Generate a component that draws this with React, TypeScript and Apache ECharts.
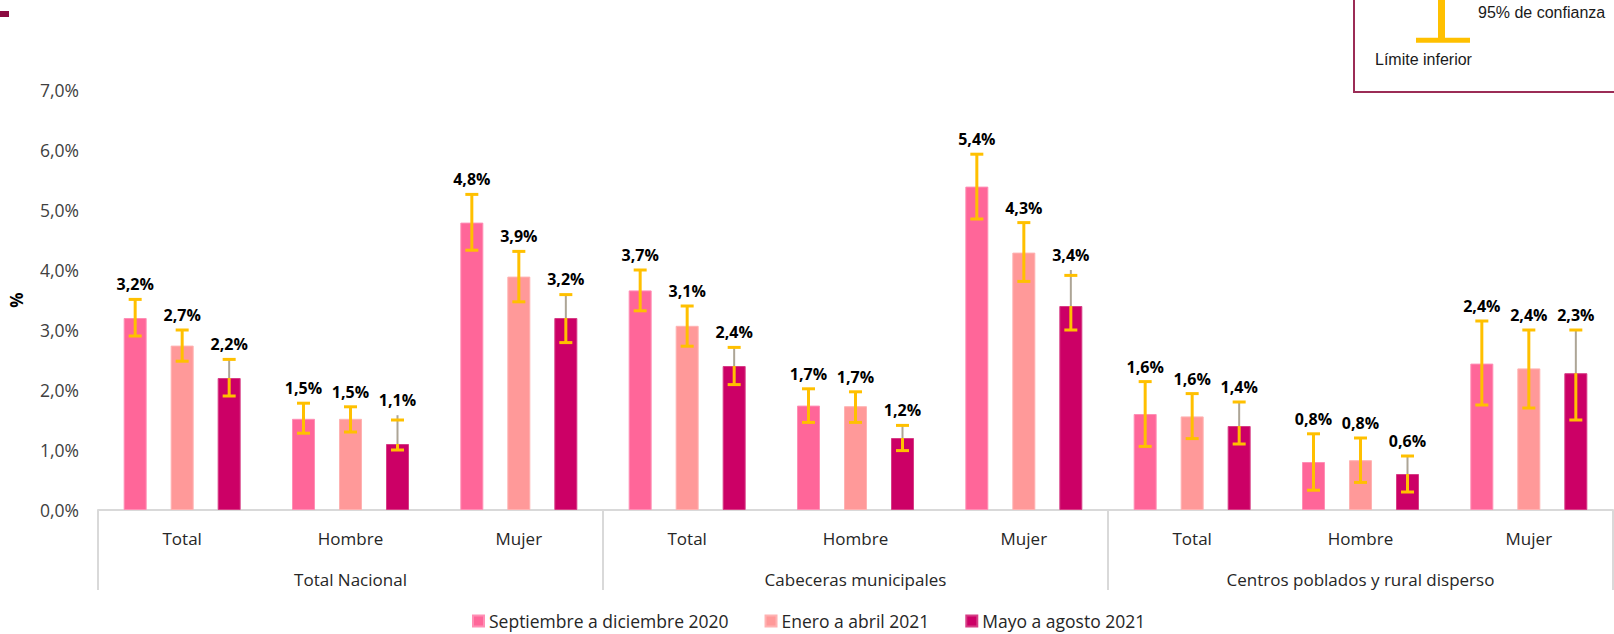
import React, { useEffect, useRef } from "react";
import * as echarts from "echarts";

// Category labels
const subCategories = ["Total", "Hombre", "Mujer", "Total", "Hombre", "Mujer", "Total", "Hombre", "Mujer"];
const groups = ["Total Nacional", "Cabeceras municipales", "Centros poblados y rural disperso"];
const seriesNames = ["Septiembre a diciembre 2020", "Enero a abril 2021", "Mayo a agosto 2021"];

// Point estimates (%)
const sep2020 = [3.2, 1.52, 4.79, 3.66, 1.74, 5.39, 1.6, 0.8, 2.44];
const ene2021 = [2.74, 1.52, 3.89, 3.07, 1.73, 4.29, 1.56, 0.83, 2.36];
const may2021 = [2.2, 1.1, 3.2, 2.4, 1.2, 3.4, 1.4, 0.6, 2.28];

// 95% confidence limits (%)
const sep2020Low = [2.9, 1.28, 4.33, 3.32, 1.46, 4.85, 1.06, 0.33, 1.75];
const sep2020High = [3.51, 1.78, 5.26, 4.0, 2.02, 5.93, 2.14, 1.27, 3.15];
const ene2021Low = [2.48, 1.3, 3.47, 2.73, 1.46, 3.81, 1.19, 0.46, 1.7];
const ene2021High = [3.0, 1.72, 4.31, 3.4, 1.97, 4.79, 1.94, 1.2, 3.0];
const may2021Low = [1.9, 1.0, 2.79, 2.09, 0.99, 3.0, 1.1, 0.3, 1.5];
const may2021High = [2.51, 1.5, 3.59, 2.71, 1.41, 3.91, 1.8, 0.9, 3.0];
const may2021GrayTop = [2.51, 1.58, 3.6, 2.71, 1.41, 4.0, 1.8, 0.9, 3.0];

const yTicks = { min: 0, max: 7, interval: 1 };

const COLORS = ["#FF6699", "#FF9999", "#CC0066"];
const BORDERS = ["#ff8fb5", "#ffb2b2", "#d63d85"];
const GOLD = "#FFC000";
const BAR_W = 23;
const BAR_GAP = 24;
const FONT = '"Open Sans", "Noto Sans", sans-serif';

const fmt = (v: number) => v.toFixed(1).replace(".", ",") + "%";

function errorSeries(idx: number, values: number[], lows: number[], highs: number[], grayTops?: number[]) {
  return {
    type: "custom",
    name: "err" + idx,
    silent: true,
    clip: false,
    z: 5,
    xAxisIndex: 0,
    yAxisIndex: 0,
    encode: { x: 0, y: [2, 3] },
    data: values.map((v, i) => [i, v, lows[i], highs[i], grayTops ? grayTops[i] : highs[i]]),
    renderItem: (params: any, api: any) => {
      const off = (idx - 1) * (BAR_W + BAR_GAP);
      const c = api.coord([api.value(0), api.value(1)]);
      const lo = api.coord([api.value(0), api.value(2)]);
      const hi = api.coord([api.value(0), api.value(3)]);
      const gt = api.coord([api.value(0), api.value(4)]);
      const x = c[0] + off;
      const gold = { stroke: GOLD, lineWidth: 3 };
      const children: any[] = [];
      if (grayTops) {
        children.push({ type: "line", shape: { x1: x, y1: c[1], x2: x, y2: gt[1] }, style: { stroke: "#ada596", lineWidth: 2 } });
        children.push({ type: "line", shape: { x1: x, y1: c[1], x2: x, y2: lo[1] }, style: gold });
      } else {
        children.push({ type: "line", shape: { x1: x, y1: hi[1], x2: x, y2: lo[1] }, style: gold });
      }
      children.push({ type: "line", shape: { x1: x - 6.5, y1: hi[1], x2: x + 6.5, y2: hi[1] }, style: gold });
      children.push({ type: "line", shape: { x1: x - 6.5, y1: lo[1], x2: x + 6.5, y2: lo[1] }, style: gold });
      const topY = Math.min(hi[1], gt[1]);
      children.push({
        type: "text",
        x: x,
        y: topY - 7,
        style: {
          text: fmt(api.value(1)),
          align: "center",
          verticalAlign: "bottom",
          fontFamily: FONT,
          fontSize: 16,
          fontWeight: "bold",
          fill: "#000",
        },
      });
      return { type: "group", children };
    },
  };
}

export default function App() {
  const ref = useRef<HTMLDivElement>(null);

  useEffect(() => {
    if (!ref.current) return;
    const chart = echarts.init(ref.current, null, { renderer: "svg" });
    const barValues = [sep2020, ene2021, may2021];

    chart.setOption({
      animation: false,
      backgroundColor: "#ffffff",
      textStyle: { fontFamily: FONT },
      grid: { left: 98, right: 1, top: 90, bottom: 124, containLabel: false },
      legend: {
        data: seriesNames,
        left: 467,
        top: 607,
        itemWidth: 11,
        itemHeight: 11,
        itemGap: 36,
        icon: "rect",
        textStyle: { fontFamily: FONT, fontSize: 17.5, lineHeight: 18, color: "#262626" },
      },
      xAxis: [
        {
          type: "category",
          data: subCategories,
          position: "bottom",
          axisLine: { show: true, lineStyle: { color: "#d9d9d9", width: 2 } },
          axisTick: { show: false },
          axisLabel: { margin: 20, fontSize: 17, color: "#262626", fontFamily: FONT, interval: 0 },
        },
        {
          type: "category",
          data: groups,
          position: "bottom",
          axisLine: { show: false },
          axisTick: { show: true, length: 80, lineStyle: { color: "#d9d9d9", width: 2 } },
          axisLabel: { margin: 61, fontSize: 17, color: "#262626", fontFamily: FONT, interval: 0 },
          splitLine: { show: false },
        },
      ],
      yAxis: {
        type: "value",
        min: yTicks.min,
        max: yTicks.max,
        interval: yTicks.interval,
        name: "%",
        nameLocation: "middle",
        nameRotate: 90,
        nameGap: 73,
        nameTextStyle: { fontFamily: FONT, fontSize: 17, fontWeight: "bold", color: "#000" },
        axisLine: { show: false },
        axisTick: { show: false },
        splitLine: { show: false },
        axisLabel: { margin: 19, fontSize: 17.5, color: "#404040", fontFamily: FONT, formatter: (v: number) => fmt(v) },
      },
      series: [
        ...barValues.map((vals, i) => ({
          type: "bar",
          name: seriesNames[i],
          data: vals,
          barWidth: BAR_W,
          barGap: (BAR_GAP / BAR_W) * 100 + "%",
          itemStyle: { color: COLORS[i], borderColor: BORDERS[i], borderWidth: 1 },
          z: 2,
        })),
        errorSeries(0, sep2020, sep2020Low, sep2020High),
        errorSeries(1, ene2021, ene2021Low, ene2021High),
        errorSeries(2, may2021, may2021Low, may2021High, may2021GrayTop),
      ],
      graphic: [
        { type: "rect", left: 0, top: 11, shape: { width: 9, height: 6 }, style: { fill: "#8c0b41" } },
        {
          type: "group",
          children: [
            { type: "rect", shape: { x: 1354, y: -6, width: 280, height: 98 }, style: { fill: "#fff", stroke: "#9b2c56", lineWidth: 2 } },
            { type: "line", shape: { x1: 1441.5, y1: 0, x2: 1441.5, y2: 40 }, style: { stroke: GOLD, lineWidth: 7 } },
            { type: "line", shape: { x1: 1416, y1: 40.3, x2: 1470, y2: 40.3 }, style: { stroke: GOLD, lineWidth: 5 } },
            {
              type: "text",
              x: 1478,
              y: 12,
              style: { text: "95% de confianza", fontFamily: '"Liberation Sans", Arial, sans-serif', fontSize: 16, fill: "#1a1a1a", verticalAlign: "middle" },
            },
            {
              type: "text",
              x: 1375,
              y: 59,
              style: { text: "Límite inferior", fontFamily: '"Liberation Sans", Arial, sans-serif', fontSize: 16, fill: "#1a1a1a", verticalAlign: "middle" },
            },
          ],
        },
      ],
    });

    return () => chart.dispose();
  }, []);

  return <div ref={ref} style={{ position: "absolute", left: 0, top: 0, width: 1614, height: 634 }} />;
}
